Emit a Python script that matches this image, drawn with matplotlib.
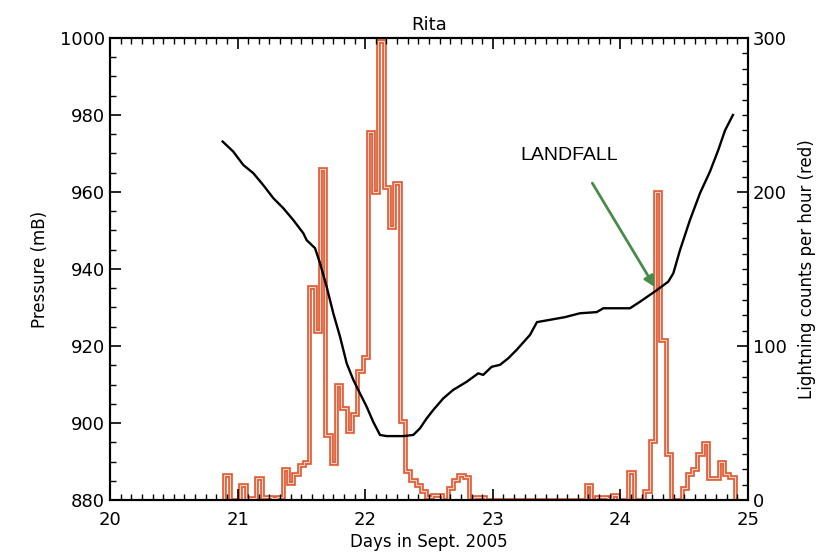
import matplotlib
matplotlib.use("Agg")
import matplotlib.pyplot as plt
import numpy as np
from matplotlib.ticker import MultipleLocator

# hurricane Rita: central pressure (mB) vs. day of September 2005
days = [20.883, 20.966, 21.045, 21.123, 21.201, 21.280, 21.358, 21.437, 21.515, 21.541,
        21.607, 21.646, 21.698, 21.750, 21.803, 21.855, 21.907, 21.959, 22.012, 22.063,
        22.116, 22.168, 22.299, 22.377, 22.429, 22.482, 22.534, 22.612, 22.690, 22.795,
        22.886, 22.925, 22.991, 23.056, 23.121, 23.187, 23.292, 23.346, 23.448, 23.566,
        23.683, 23.814, 23.866, 24.075, 24.154, 24.285, 24.375, 24.415, 24.467, 24.545,
        24.624, 24.702, 24.767, 24.820, 24.882]
pressure = [973.1, 970.5, 967.0, 964.9, 961.8, 958.4, 955.8, 952.7, 949.3, 947.5,
            945.4, 941.5, 935.4, 928.5, 922.4, 915.5, 911.2, 907.7, 904.2, 900.3,
            896.9, 896.6, 896.6, 896.9, 898.6, 901.2, 903.4, 906.4, 908.6, 910.7,
            912.9, 912.5, 914.6, 915.1, 916.8, 919.0, 922.9, 926.2, 926.8, 927.5,
            928.5, 928.8, 929.8, 929.8, 931.5, 934.5, 936.7, 938.9, 944.9, 952.7,
            959.7, 965.3, 970.9, 976.0, 980.0]

# hourly lightning counts, first hour starts 21:30 on the 20th
first_hour = 20 + 21.5 / 24
counts = [16, 0, 0, 10, 1, 1, 14, 2, 2, 1,
          2, 20, 11, 17, 23, 25, 138, 110, 215, 42,
          24, 75, 60, 45, 56, 84, 93, 239, 200, 298,
          203, 177, 206, 51, 19, 13, 10, 6, 2, 3,
          3, 0, 8, 13, 16, 15, 0, 2, 2, 0,
          0, 0, 0, 0, 0, 0, 0, 0, 0, 0,
          0, 0, 0, 0, 0, 0, 0, 0, 10, 0,
          2, 2, 1, 3, 0, 0, 18, 0, 0, 6,
          38, 200, 104, 30, 0, 0, 8, 17, 20, 30,
          37, 14, 14, 25, 17, 15]
edges = first_hour + np.arange(len(counts) + 1) / 24

landfall_day, landfall_p = 24.27, 935.3

fig = plt.figure(figsize=(8.3, 5.56), dpi=100)
ax = fig.add_axes([0.1325, 0.1007, 0.7687, 0.831])
ax2 = ax.twinx()

# lightning histogram (thick red outline with a pale core)
ax2.stairs(counts, edges, baseline=0, color="#e0603a", lw=3.4)
ax2.stairs(counts, edges, baseline=0, color="#fbd3c2", lw=0.8)
ax2.set_ylim(0, 300)
ax2.yaxis.set_major_locator(MultipleLocator(100))
ax2.yaxis.set_minor_locator(MultipleLocator(10))
ax2.set_ylabel("Lightning counts per hour (red)", fontsize=12, labelpad=8)

# pressure curve on top of the histogram
ax.set_zorder(ax2.get_zorder() + 1)
ax.patch.set_visible(False)
ax.plot(days, pressure, color="black", lw=1.7)
ax.set_xlim(20, 25)
ax.set_ylim(880, 1000)
ax.xaxis.set_major_locator(MultipleLocator(1))
ax.xaxis.set_minor_locator(MultipleLocator(1 / 12))
ax.yaxis.set_major_locator(MultipleLocator(20))
ax.yaxis.set_minor_locator(MultipleLocator(5))
ax.set_xlabel("Days in Sept. 2005", fontsize=12, labelpad=3)
ax.set_ylabel("Pressure (mB)", fontsize=12, labelpad=8)
ax.set_title("Rita", fontsize=13, pad=6)

ax.annotate("", xy=(landfall_day, landfall_p), xytext=(23.78, 962.3),
            arrowprops=dict(arrowstyle="-|>", color="#4a8a4a", lw=2,
                            mutation_scale=16, shrinkA=0, shrinkB=0))
ax.text(23.6, 969.6, "LANDFALL", fontsize=14, family="Liberation Sans",
        ha="center", va="center")

for a in (ax, ax2):
    for s in a.spines.values():
        s.set_linewidth(1.5)
ax.tick_params(axis="x", which="both", direction="in", top=True, labelsize=13, pad=8)
ax.tick_params(axis="y", which="both", direction="in", right=False, labelsize=13)
ax2.tick_params(axis="y", which="both", direction="in", labelsize=13)
for a in (ax, ax2):
    a.tick_params(which="major", length=8, width=1.2)
    a.tick_params(which="minor", length=4, width=1)

fig.savefig("out.png", dpi=100)
